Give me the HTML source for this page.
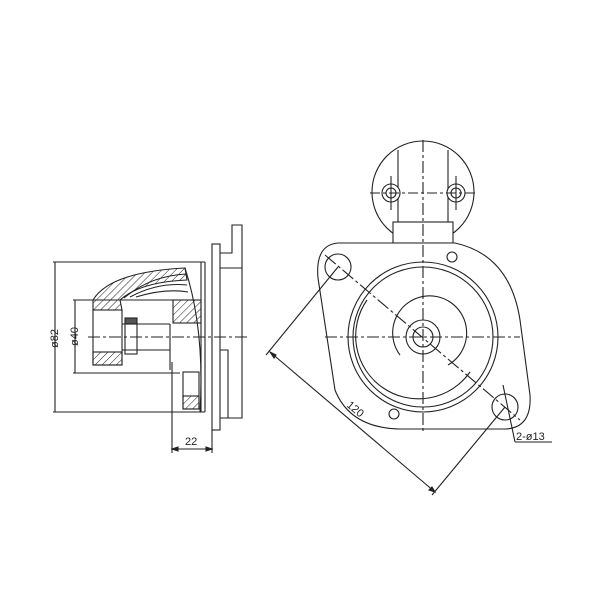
<!DOCTYPE html>
<html><head><style>body{margin:0;background:#fff}svg{display:block}</style></head><body>
<svg width="600" height="600" viewBox="0 0 600 600" xmlns="http://www.w3.org/2000/svg" fill="none" stroke="#222" stroke-width="1.1" font-family="Liberation Sans, sans-serif">
<defs><pattern id="h" width="5" height="5" patternUnits="userSpaceOnUse" patternTransform="rotate(45)"><line x1="0" y1="0" x2="0" y2="5" stroke="#222" stroke-width="1"/></pattern></defs>
<g>
<line x1="53" y1="262" x2="205" y2="262"/><line x1="53" y1="412" x2="205" y2="412"/>
<line x1="55" y1="262" x2="55" y2="412"/>
<line x1="73" y1="300" x2="180" y2="300"/><line x1="73" y1="373" x2="180" y2="373"/>
<line x1="75" y1="300" x2="75" y2="373"/>
<text x="0" y="0" transform="translate(58,348) rotate(-90)" font-size="11" fill="#222" stroke="none">ø82</text>
<text x="0" y="0" transform="translate(78,346) rotate(-90)" font-size="11" fill="#222" stroke="none">ø40</text>
<line x1="88" y1="337" x2="250" y2="337" stroke-dasharray="12,3,3,3"/>
<path d="M93,310 L93,300 Q110,272 185,268 L187,280 Q140,282 120,300 L122,310 Z" fill="url(#h)"/>
<path d="M124,298 Q150,276 186,274"/><path d="M130,297 Q158,282 187,285"/><path d="M136,297 Q165,288 188,292"/>
<rect x="93" y="310" width="29" height="55"/>
<rect x="93" y="352" width="29" height="13" fill="url(#h)"/>
<rect x="173" y="300" width="28" height="23" fill="url(#h)"/>
<rect x="125" y="318" width="12" height="6" fill="#555"/>
<rect x="125" y="324" width="12" height="30"/>
<line x1="122" y1="324" x2="170" y2="324"/><line x1="122" y1="350" x2="170" y2="350"/>
<line x1="170" y1="324" x2="170" y2="370"/>
<rect x="183" y="372" width="16" height="37"/>
<rect x="183" y="396" width="16" height="13" fill="url(#h)"/>
<path d="M185,268 Q205,330 200,412"/>
<line x1="201" y1="262" x2="201" y2="412"/><line x1="205" y1="262" x2="205" y2="412"/>
<rect x="212" y="244" width="8" height="186"/>
<path d="M220,253 L232,253 L232,225 L242,225 L242,418 L220,418"/>
<line x1="220" y1="268" x2="242" y2="268"/>
<path d="M220,350 L228,350 L228,418"/>
<line x1="172" y1="362" x2="172" y2="453"/><line x1="212" y1="430" x2="212" y2="453"/>
<line x1="172" y1="449" x2="212" y2="449"/>
<path d="M172,449 l6,-2 v4z M212,449 l-6,-2 v4z" fill="#222"/>
<text x="185" y="445" font-size="11" fill="#222" stroke="none">22</text>
</g>
<g>
<circle cx="423" cy="192" r="51"/>
<rect x="393" y="222" width="60" height="21" fill="#fff"/>
<line x1="398" y1="150" x2="398" y2="222"/><line x1="448" y1="150" x2="448" y2="222"/>
<circle cx="391" cy="193" r="9" fill="#fff"/><circle cx="391" cy="193" r="5"/>
<circle cx="456" cy="193" r="9" fill="#fff"/><circle cx="456" cy="193" r="5"/>
<line x1="370" y1="193" x2="476" y2="193" stroke-dasharray="10,3,3,3"/>
<line x1="391" y1="176" x2="391" y2="210"/><line x1="456" y1="176" x2="456" y2="210"/>
<path d="M338,243 L455,243 Q510,255 520,320 L530,395 Q532,428 505,429 L400,429 Q350,428 335,390 L318,278 Q315,245 338,243 Z" fill="#fff"/>
<circle cx="338" cy="267" r="13"/><circle cx="505" cy="407" r="13"/>
<circle cx="423" cy="337" r="75"/><circle cx="423" cy="337" r="70"/>
<path d="M367,300 A58,58 0 1 0 470,372"/>
<path d="M400,355 A37,37 0 1 1 448,365"/>
<circle cx="423" cy="337" r="17"/><circle cx="423" cy="337" r="10"/>
<circle cx="452" cy="257" r="5"/><circle cx="394" cy="414" r="5"/>
<line x1="423" y1="140" x2="423" y2="432" stroke-dasharray="12,3,3,3"/>
<line x1="325" y1="337" x2="520" y2="337" stroke-dasharray="12,3,3,3"/>
<line x1="325" y1="255" x2="520" y2="420" stroke-dasharray="14,3,3,3"/>
<line x1="270" y1="352" x2="435" y2="492"/>
<line x1="338" y1="267" x2="266" y2="355"/><line x1="505" y1="407" x2="432" y2="495"/>
<path d="M270,352 l4,6 l2,-3z M435,492 l-6,-2 l3,-3z" fill="#222"/>
<text transform="translate(346,406) rotate(40)" font-size="11" fill="#222" stroke="none">120</text>
<line x1="503" y1="385" x2="515" y2="442"/><line x1="515" y1="442" x2="552" y2="442"/>
<text x="516" y="440" font-size="11" fill="#222" stroke="none">2-ø13</text>
</g>
</svg>
</body></html>
